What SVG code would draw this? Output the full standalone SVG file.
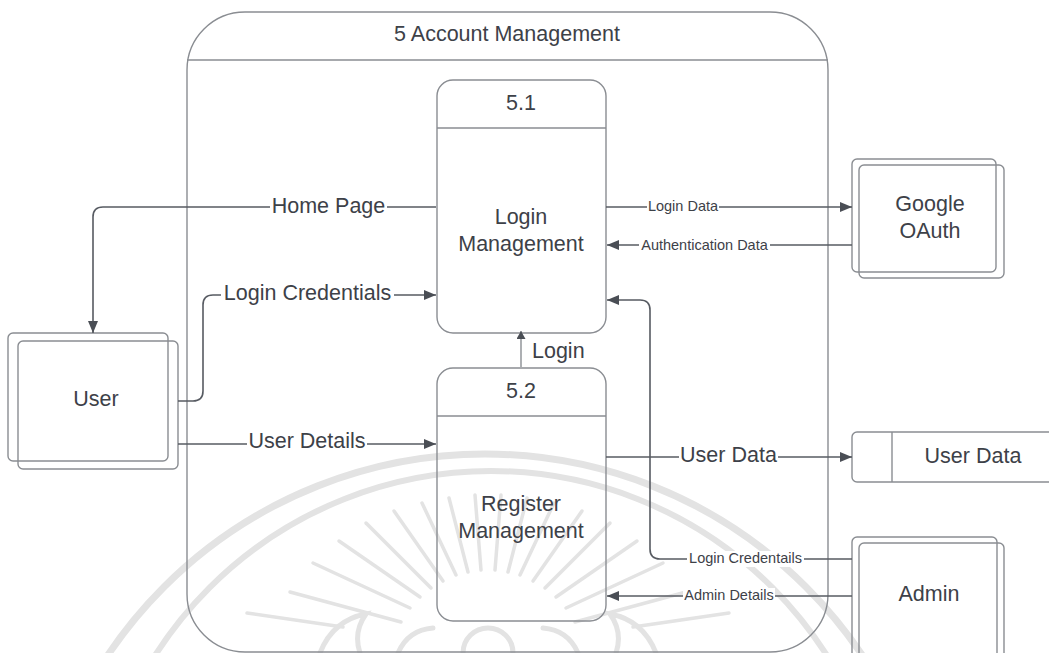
<svg xmlns="http://www.w3.org/2000/svg" width="1049" height="653" viewBox="0 0 1049 653">
  <style>
    .box { fill: none; stroke: #8a8d92; stroke-width: 1.4; }
    .flow { fill: none; stroke: #575b62; stroke-width: 1.6; }
    .thin { fill: none; stroke: #6a6e75; stroke-width: 1.1; }
    .big { font-family: "Liberation Sans", Arial, sans-serif; font-size: 21.5px; fill: #3d4148; }
    .small { font-family: "Liberation Sans", Arial, sans-serif; font-size: 14.5px; fill: #3d4148; }
    .mid { text-anchor: middle; }
    .wm { fill: none; stroke: #e3e3e3; }
  </style>
  <defs>
    <marker id="arrow" viewBox="0 0 12 10" refX="12" refY="5" markerWidth="12" markerHeight="10" markerUnits="userSpaceOnUse" orient="auto">
      <path d="M0,0 L12,5 L0,10 z" fill="#4a4e55"/>
    </marker>
    <marker id="arrowSmall" viewBox="0 0 8 9" refX="8" refY="4.5" markerWidth="8" markerHeight="9" markerUnits="userSpaceOnUse" orient="auto">
      <path d="M0,0 L8,4.5 L0,9 z" fill="#4a4e55"/>
    </marker>
  </defs>

  <rect width="1049" height="653" fill="#ffffff"/>

  <!-- faint seal in the background -->
  <g id="seal" class="wm">
    <circle cx="485" cy="908" r="454" stroke-width="7"/>
    <circle cx="491" cy="869" r="398" stroke-width="6"/>
    <g stroke-width="3.5" stroke-linecap="round">
      <line x1="401" y1="622" x2="290" y2="592"/>
      <line x1="410" y1="608" x2="313" y2="563"/>
      <line x1="420" y1="597" x2="339" y2="541"/>
      <line x1="431" y1="588" x2="366" y2="523"/>
      <line x1="443" y1="581" x2="394" y2="511"/>
      <line x1="456" y1="575" x2="422" y2="503"/>
      <line x1="468" y1="572" x2="449" y2="498"/>
      <line x1="481" y1="570" x2="475" y2="495"/>
      <line x1="495" y1="570" x2="501" y2="495"/>
      <line x1="508" y1="572" x2="527" y2="498"/>
      <line x1="520" y1="575" x2="554" y2="503"/>
      <line x1="533" y1="581" x2="582" y2="511"/>
      <line x1="545" y1="588" x2="610" y2="523"/>
      <line x1="556" y1="597" x2="637" y2="541"/>
      <line x1="566" y1="608" x2="663" y2="563"/>
      <line x1="575" y1="622" x2="686" y2="592"/>
      <line x1="247" y1="613" x2="343" y2="627"/>
      <line x1="729" y1="613" x2="633" y2="627"/>
    </g>
    <g stroke-width="5" stroke-linecap="round">
      <path d="M320 653 Q333 620 366 614 Q353 632 360 653"/>
      <path d="M656 653 Q643 620 610 614 Q623 632 616 653"/>
      <path d="M463 653 A25 25 0 0 1 513 653"/>
      <path d="M398 653 Q408 630 433 628 M578 653 Q568 630 543 628"/>
    </g>
  </g>

  <!-- container process -->
  <g id="account-management">
    <path class="box" d="M187 70 A58 58 0 0 1 245 12 H770 A58 58 0 0 1 828 70 V594 A58 58 0 0 1 770 652 H245 A58 58 0 0 1 187 594 Z"/>
    <line class="box" x1="187" y1="60" x2="828" y2="60"/>
    <text class="big mid" x="507" y="41">5 Account Management</text>
  </g>

  <!-- process 5.1 -->
  <g id="p51">
    <rect class="box" x="437" y="80" width="169" height="253" rx="16"/>
    <line class="box" x1="437" y1="128" x2="606" y2="128"/>
    <text class="big mid" x="521" y="110">5.1</text>
    <text class="big mid" x="521" y="224">Login</text>
    <text class="big mid" x="521" y="251">Management</text>
  </g>

  <!-- process 5.2 -->
  <g id="p52">
    <rect class="box" x="437" y="368" width="169" height="253" rx="16"/>
    <line class="box" x1="437" y1="416" x2="606" y2="416"/>
    <text class="big mid" x="521" y="398">5.2</text>
    <text class="big mid" x="521" y="511">Register</text>
    <text class="big mid" x="521" y="538">Management</text>
  </g>

  <!-- external entity: User -->
  <g id="user">
    <rect class="box" x="8" y="333" width="160" height="128" rx="5" fill="#ffffff"/>
    <rect class="box" x="18" y="341" width="160" height="128" rx="5" fill="#ffffff"/>
    <text class="big mid" x="96" y="406">User</text>
  </g>

  <!-- external entity: Google OAuth -->
  <g id="google-oauth">
    <rect class="box" x="852" y="159" width="144" height="113" rx="5" fill="#ffffff"/>
    <rect class="box" x="859" y="165" width="145" height="113" rx="5" fill="#ffffff"/>
    <text class="big mid" x="930" y="211">Google</text>
    <text class="big mid" x="930" y="238">OAuth</text>
  </g>

  <!-- data store: User Data -->
  <g id="user-data">
    <path class="box" d="M1052 432 H857 A5 5 0 0 0 852 437 V477 A5 5 0 0 0 857 482 H1052" fill="#ffffff"/>
    <line class="box" x1="892" y1="432" x2="892" y2="482"/>
    <text class="big mid" x="973" y="463">User Data</text>
  </g>

  <!-- external entity: Admin -->
  <g id="admin">
    <rect class="box" x="852" y="537" width="145" height="130" rx="5" fill="#ffffff"/>
    <rect class="box" x="859" y="543" width="145" height="130" rx="5" fill="#ffffff"/>
    <text class="big mid" x="929" y="601">Admin</text>
  </g>

  <!-- data flows -->
  <g id="connectors">
    <path class="flow" d="M436 207 H103 Q93 207 93 217 V333" marker-end="url(#arrow)"/>
    <path class="flow" d="M178 401 H193 Q203 401 203 391 V305 Q203 295 213 295 H436" marker-end="url(#arrow)"/>
    <path class="flow" d="M178 444 H436" marker-end="url(#arrow)"/>
    <path class="thin" d="M521 367 V331" marker-end="url(#arrowSmall)"/>
    <path class="flow" d="M606 207 H852" marker-end="url(#arrow)"/>
    <path class="flow" d="M852 245 H607" marker-end="url(#arrow)"/>
    <path class="flow" d="M606 457 H852" marker-end="url(#arrow)"/>
    <path class="flow" d="M852 559 H660 Q650 559 650 549 V310 Q650 300 640 300 H607" marker-end="url(#arrow)"/>
    <path class="flow" d="M852 596 H607" marker-end="url(#arrow)"/>

    <!-- flow labels on a white backing -->
    <g fill="#ffffff">
      <rect x="270" y="196" width="117" height="22"/>
      <rect x="221" y="283" width="173" height="22"/>
      <rect x="247" y="432" width="120" height="22"/>
      <rect x="647" y="199" width="72" height="16"/>
      <rect x="639" y="237" width="131" height="16"/>
      <rect x="679" y="446" width="99" height="22"/>
      <rect x="687" y="551" width="117" height="16"/>
      <rect x="683" y="588" width="92" height="16"/>
    </g>
    <text class="big mid" x="328.5" y="213">Home Page</text>
    <text class="big mid" x="307.5" y="300">Login Credentials</text>
    <text class="big mid" x="307" y="448">User Details</text>
    <text class="big" x="532" y="358">Login</text>
    <text class="small mid" x="683" y="211">Login Data</text>
    <text class="small mid" x="704.5" y="249.5">Authentication Data</text>
    <text class="big mid" x="728.5" y="462">User Data</text>
    <text class="small mid" x="745.5" y="563">Login Credentails</text>
    <text class="small mid" x="729" y="600">Admin Details</text>
  </g>
</svg>
